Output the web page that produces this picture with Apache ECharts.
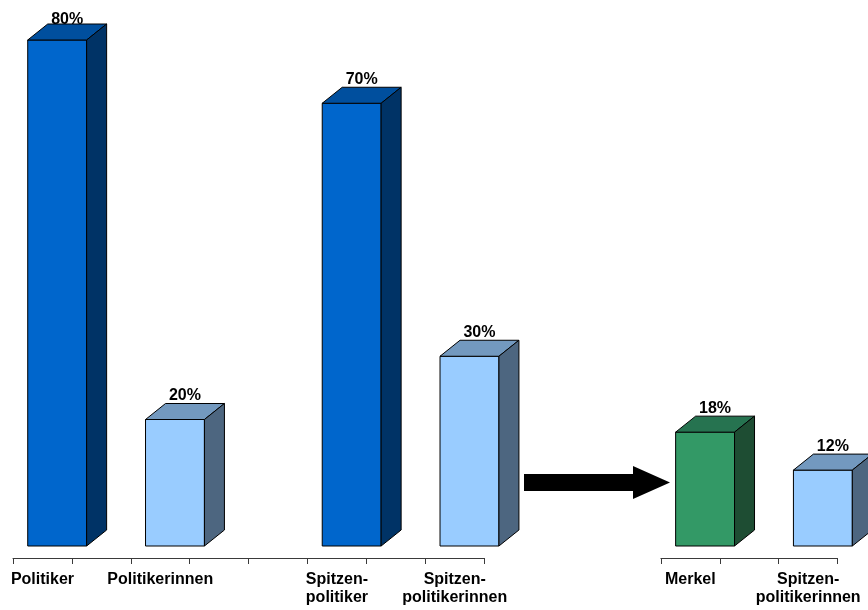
<!DOCTYPE html>
<html>
<head>
<meta charset="utf-8">
<script src="https://cdn.jsdelivr.net/npm/echarts@6/dist/echarts.min.js"></script>
<style>
  html, body { margin: 0; padding: 0; background: #fff; }
  #chart { width: 868px; height: 610px; }
</style>
</head>
<body>
<div id="chart"></div>
<script>
// Left block: general politicians vs. top politicians (empty slots keep the spacing)
const leftCategories = ['Politiker', '', 'Politikerinnen', '', '', 'Spitzen-\npolitiker', '', 'Spitzen-\npolitikerinnen'];
const leftValues = [80, null, 20, null, null, 70, null, 30];
// Right block: Merkel vs. other female top politicians
const rightCategories = ['Merkel', '', 'Spitzen-\npolitikerinnen'];
const rightValues = [18, null, 12];

const FONT = 'Liberation Sans, Arial, sans-serif';

// face colours: front, top, side
const TONES = {
  dark:  ['#0066CC', '#004F9E', '#003366'],
  light: ['#99CCFF', '#7399BF', '#4D6680'],
  green: ['#339966', '#267350', '#1E4D33']
};
function toneOf(name) {
  if (name === 'Merkel') return 'green';
  return /innen$/.test(name) ? 'light' : 'dark';
}

function toData(cats, vals) {
  const out = [];
  vals.forEach((v, i) => { if (v !== null) out.push({ value: [i, v], tone: toneOf(cats[i]) }); });
  return out;
}

const DX = 20, DY = 16;

function make3dBar(dataArr) {
  return function (params, api) {
    const idx = api.value(0);
    const v = api.value(1);
    const base = api.coord([idx, 0]);
    const top = api.coord([idx, v]);
    const w = api.size([1, 0])[0];
    const x0 = base[0] - 0.25 * w;
    const x1 = x0 + w;
    const yt = top[1], yb = base[1];
    const c = TONES[dataArr[params.dataIndex].tone];
    const stroke = { stroke: '#000', lineWidth: 1, lineJoin: 'round' };
    // value label sits just above the back edge of the top face, kept inside the canvas
    const labelY = Math.max(yt - DY, 28);
    return {
      type: 'group',
      children: [
        { type: 'rect', shape: { x: x0, y: yt, width: w, height: yb - yt },
          style: Object.assign({ fill: c[0] }, stroke) },
        { type: 'polygon', shape: { points: [[x0, yt], [x0 + DX, yt - DY], [x1 + DX, yt - DY], [x1, yt]] },
          style: Object.assign({ fill: c[1] }, stroke) },
        { type: 'polygon', shape: { points: [[x1, yt], [x1 + DX, yt - DY], [x1 + DX, yb - DY], [x1, yb]] },
          style: Object.assign({ fill: c[2] }, stroke) },
        { type: 'text', style: { text: v + '%', x: (x0 + x1) / 2 + DX / 2, y: labelY,
            align: 'center', verticalAlign: 'bottom', font: 'bold 16px ' + FONT, fill: '#000' } }
      ]
    };
  };
}

const leftData = toData(leftCategories, leftValues);
const rightData = toData(rightCategories, rightValues);

const SLOT = 58.9;
const axisCommon = {
  type: 'category',
  position: 'bottom',
  boundaryGap: true,
  offset: 12,
  axisLine: { show: true, onZero: false, lineStyle: { color: '#3a3a3a', width: 1 } },
  axisTick: { show: true, length: 6, interval: 0, lineStyle: { color: '#3a3a3a' } },
  axisLabel: { interval: 0, margin: 13, color: '#000', fontFamily: FONT, fontWeight: 'bold',
               fontSize: 16, lineHeight: 18 },
  splitLine: { show: false }
};
const yCommon = { type: 'value', min: 0, max: 80, show: false, splitLine: { show: false } };

const chart = echarts.init(document.getElementById('chart'), null, { renderer: 'canvas' });
chart.setOption({
  animation: false,
  backgroundColor: '#fff',
  grid: [
    { left: 13, top: 40, width: SLOT * 8, height: 506 },
    { left: 13 + SLOT * 11, top: 40, width: SLOT * 3, height: 506 }
  ],
  xAxis: [
    Object.assign({}, axisCommon, { gridIndex: 0, data: leftCategories }),
    Object.assign({}, axisCommon, { gridIndex: 1, data: rightCategories })
  ],
  yAxis: [
    Object.assign({}, yCommon, { gridIndex: 0 }),
    Object.assign({}, yCommon, { gridIndex: 1 })
  ],
  series: [
    { type: 'custom', xAxisIndex: 0, yAxisIndex: 0, clip: false,
      renderItem: make3dBar(leftData), data: leftData },
    { type: 'custom', xAxisIndex: 1, yAxisIndex: 1, clip: false,
      renderItem: make3dBar(rightData), data: rightData }
  ],
  graphic: [
    { type: 'polygon', z: 10,
      shape: { points: [[524, 474], [633, 474], [633, 466], [670, 482.5], [633, 499], [633, 491], [524, 491]] },
      style: { fill: '#000' } }
  ]
});
</script>
</body>
</html>
